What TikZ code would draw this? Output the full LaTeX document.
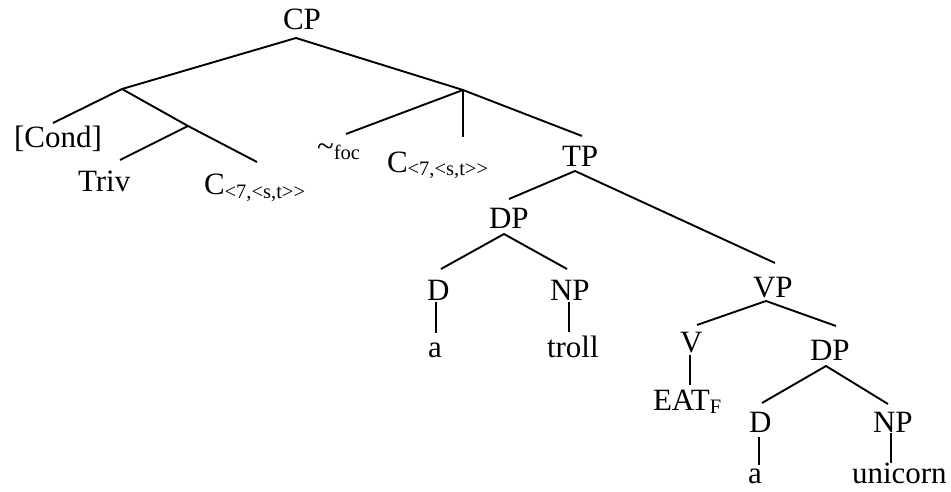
\documentclass[tikz,border=0pt]{standalone}
\usepackage{fontspec}
\setmainfont{Liberation Serif}
\usetikzlibrary{calc}
\newcommand{\lsub}[1]{\raisebox{-3pt}{\fontsize{20.5}{20.5}\selectfont #1}}
\begin{document}
\begin{tikzpicture}[x=1pt,y=-1pt,
  lbl/.style={anchor=base west,inner sep=0pt,outer sep=0pt,font=\fontsize{31}{31}\selectfont},
  edge/.style={line width=1.9pt}]
\useasboundingbox (0,0) rectangle (951,492);
% nodes
\node[lbl] (CP) at (283,30) {CP};
\node[lbl] (Cond) at (14,148) {[Cond]};
\node[lbl] (Triv) at (78,192) {Triv};
\node[lbl] (C1) at (204,195) {C\lsub{<{}7,<{}s,t>{}>}};
\node[lbl] (foc) at (317,157) {\textasciitilde\lsub{foc}};
\node[lbl] (C2) at (387,173) {C\lsub{<{}7,<{}s,t>{}>}};
\node[lbl] (TP) at (562,167) {TP};
\node[lbl] (DP1) at (489,229) {DP};
\node[lbl] (D1) at (427,300) {D};
\node[lbl] (NP1) at (550,300) {NP};
\node[lbl] (a1) at (428,357) {a};
\node[lbl] (troll) at (547,357) {troll};
\node[lbl] (VP) at (753,297) {VP};
\node[lbl] (V) at (680,352) {V};
\node[lbl] (EAT) at (653,410) {EAT\lsub{F}};
\node[lbl] (DP2) at (810,360) {DP};
\node[lbl] (D2) at (749,432) {D};
\node[lbl] (NP2) at (873,432) {NP};
\node[lbl] (a2) at (748,483) {a};
\node[lbl] (unicorn) at (852,483) {unicorn};
% junctions
\coordinate (J1) at (122,89);
\coordinate (J2) at (463,90);
\coordinate (J3) at (188,126);
% edges
\draw[edge] (J1) -- ($(CP.base west)+(13,8)$) -- (J2);
\draw[edge] ($(Cond.base west)+(39,-25)$) -- (J1) -- (J3) -- ($(C1.base west)+(53,-33)$);
\draw[edge] (J3) -- ($(Triv.base west)+(42,-32)$);
\draw[edge] ($(foc.base west)+(29,-23)$) -- (J2) -- ($(TP.base west)+(20,-31)$);
\draw[edge] (J2) -- ($(C2.base west)+(76,-36)$);
\draw[edge] ($(DP1.base west)+(20,-30)$) -- ($(TP.base west)+(13,4)$) -- ($(VP.base west)+(22,-34)$);
\draw[edge] ($(D1.base west)+(14,-31)$) -- ($(DP1.base west)+(15,5)$) -- ($(NP1.base west)+(17,-31)$);
\draw[edge] ($(D1.base west)+(9,2)$) -- ($(a1.base west)+(8,-24)$);
\draw[edge] ($(NP1.base west)+(19,2)$) -- ($(troll.base west)+(22,-25)$);
\draw[edge] ($(V.base west)+(17,-27)$) -- ($(VP.base west)+(13,4)$) -- ($(DP2.base west)+(26,-34)$);
\draw[edge] ($(V.base west)+(10,3)$) -- ($(EAT.base west)+(37,-25)$);
\draw[edge] ($(D2.base west)+(13,-29)$) -- ($(DP2.base west)+(16,6)$) -- ($(NP2.base west)+(15,-28)$);
\draw[edge] ($(D2.base west)+(10,5)$) -- ($(a2.base west)+(11,-18)$);
\draw[edge] ($(NP2.base west)+(18,1)$) -- ($(unicorn.base west)+(39,-20)$);
\end{tikzpicture}
\end{document}
